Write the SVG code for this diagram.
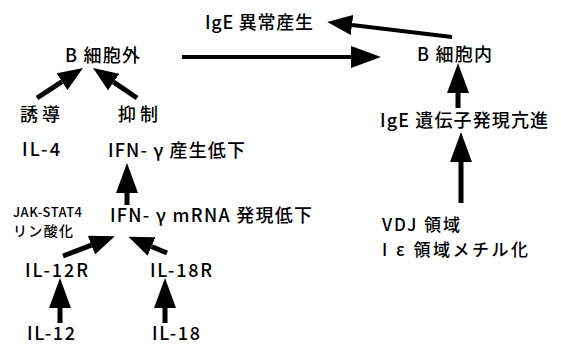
<svg xmlns="http://www.w3.org/2000/svg" width="561" height="346" viewBox="0 0 561 346">
<style>
text{font-family:"Noto Sans CJK JP","Noto Sans",sans-serif;font-size:18px;font-weight:500;fill:#000}
.sm{font-size:13px}
.sm2{font-size:14px}
.md{font-size:17px}
.c line{stroke:#000;stroke-width:5;fill:none}
.c line.t{stroke-width:4}
</style>
<defs>
<marker id="ah" markerUnits="userSpaceOnUse" viewBox="0 -11 30 22" markerWidth="30" markerHeight="22" refX="0" refY="0" orient="auto"><path d="M0,-11 L30,0 L0,11 z" fill="#000"/></marker>
<marker id="as" markerUnits="userSpaceOnUse" viewBox="0 -10 25 20" markerWidth="25" markerHeight="20" refX="0" refY="0" orient="auto"><path d="M0,-10 L25,0 L0,10 z" fill="#000"/></marker>
</defs>
<rect width="561" height="346" fill="#fff"/>
<g class="c" id="connectors">
<line class="t" x1="452" y1="37" x2="352" y2="25" marker-end="url(#as)"/>
<line class="t" x1="182" y1="57" x2="351" y2="57" marker-end="url(#ah)"/>
<line x1="37" y1="98" x2="62" y2="81.7" marker-end="url(#as)"/>
<line x1="137" y1="98" x2="113.7" y2="82.1" marker-end="url(#as)"/>
<line x1="127" y1="205" x2="127" y2="193" marker-end="url(#ah)"/>
<line x1="63" y1="256" x2="91.4" y2="245.2" marker-end="url(#as)"/>
<line x1="167" y1="253" x2="151.5" y2="246.5" marker-end="url(#as)"/>
<line x1="60" y1="323" x2="60" y2="308" marker-end="url(#ah)"/>
<line x1="165" y1="323" x2="165" y2="308" marker-end="url(#ah)"/>
<line x1="458" y1="108" x2="458" y2="93" marker-end="url(#ah)"/>
<line x1="461" y1="203" x2="461" y2="162" marker-end="url(#ah)"/>
</g>
<g id="n-ige-ijo"><text x="205" y="29" textLength="108" lengthAdjust="spacing">IgE 異常産生</text></g>
<g id="n-b-gai"><text x="65" y="62" textLength="75" lengthAdjust="spacing">B 細胞外</text></g>
<g id="n-b-nai"><text x="417" y="61" textLength="75" lengthAdjust="spacing">B 細胞内</text></g>
<g id="n-yudo"><text x="20" y="121" textLength="40" lengthAdjust="spacing">誘導</text></g>
<g id="n-yokusei"><text x="118" y="121" textLength="40" lengthAdjust="spacing">抑制</text></g>
<g id="n-il4"><text x="22" y="156" textLength="38" lengthAdjust="spacing">IL-4</text></g>
<g id="n-ifn-prod"><text x="108" y="157" textLength="137" lengthAdjust="spacing">IFN- γ 産生低下</text></g>
<g id="n-ige-gene"><text x="380" y="127" textLength="168" lengthAdjust="spacing">IgE 遺伝子発現亢進</text></g>
<g id="n-jak"><text class="sm" x="13" y="217" textLength="69" lengthAdjust="spacing">JAK-STAT4</text><text class="sm2" x="13" y="236" textLength="60" lengthAdjust="spacing">リン酸化</text></g>
<g id="n-ifn-mrna"><text x="110" y="222" textLength="202" lengthAdjust="spacing">IFN- γ mRNA 発現低下</text></g>
<g id="n-vdj"><text class="md" x="382" y="231" textLength="78" lengthAdjust="spacing">VDJ 領域</text><text class="md" x="382" y="256" textLength="146" lengthAdjust="spacing">I ε 領域メチル化</text></g>
<g id="n-il12r"><text x="25" y="277" textLength="63" lengthAdjust="spacing">IL-12R</text></g>
<g id="n-il18r"><text x="150" y="277" textLength="62" lengthAdjust="spacing">IL-18R</text></g>
<g id="n-il12"><text x="27" y="340" textLength="48" lengthAdjust="spacing">IL-12</text></g>
<g id="n-il18"><text x="152" y="340" textLength="48" lengthAdjust="spacing">IL-18</text></g>
</svg>
